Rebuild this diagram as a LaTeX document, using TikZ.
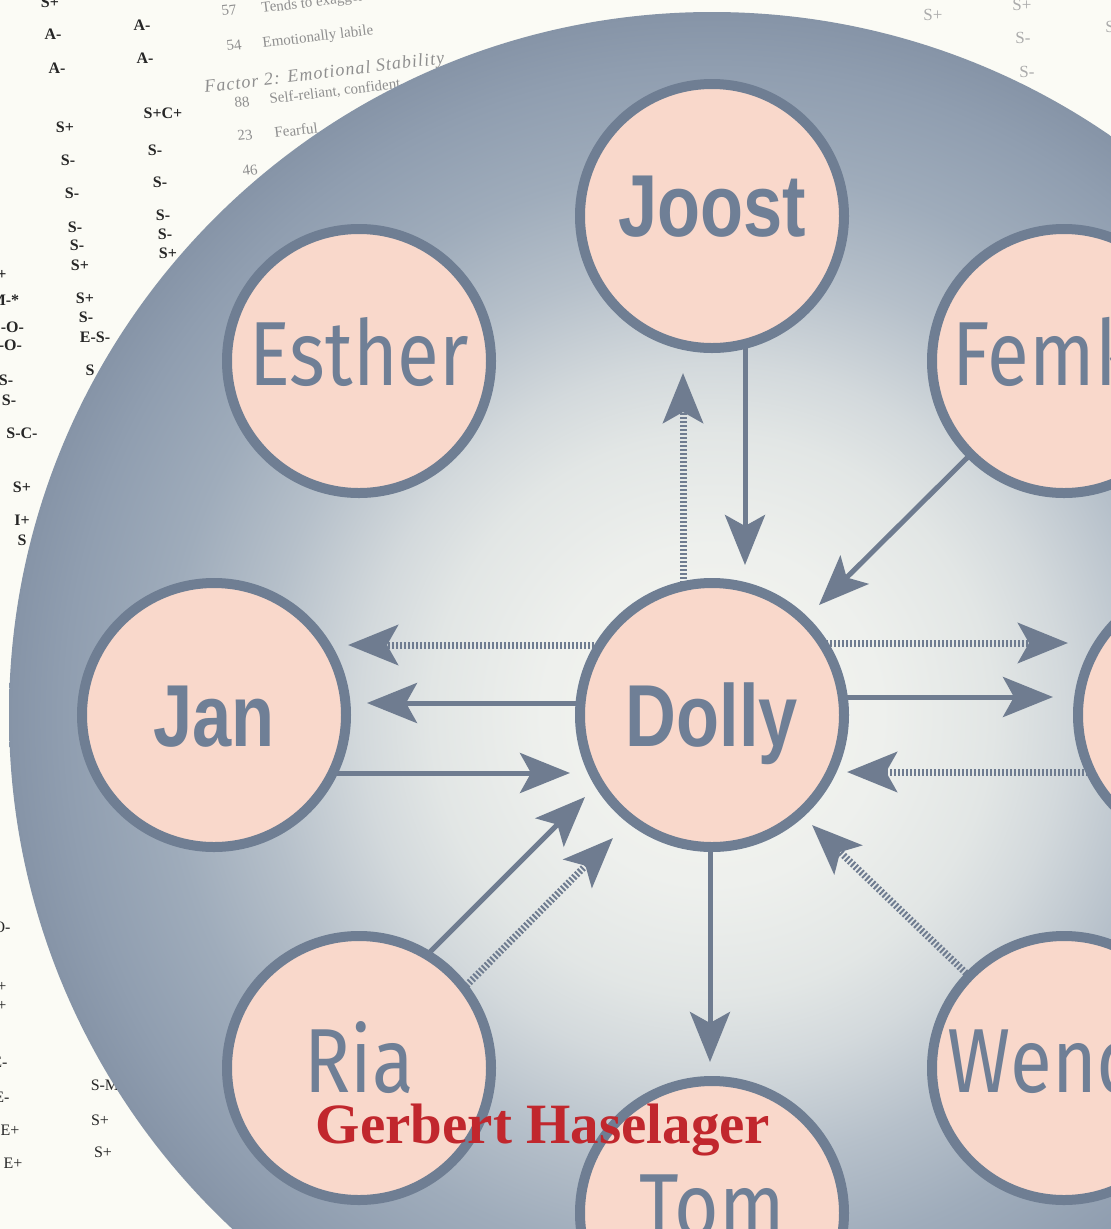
\documentclass[tikz,border=0pt]{standalone}
\usepackage{fontspec}
\usetikzlibrary{arrows.meta,calc}
\newfontfamily\namefont{Fira Sans}[FakeStretch=0.84]
\newfontfamily\bnamefont{Liberation Sans}[FakeStretch=0.8]
\newfontfamily\authorfont{Liberation Serif}
\newfontfamily\bgserif{Liberation Serif}
\newfontfamily\bgspaced{Liberation Serif}[LetterSpace=6]

\definecolor{paper}{HTML}{FBFBF5}
\definecolor{nodefill}{HTML}{F9D8CB}
\definecolor{nodeline}{HTML}{6F7E93}
\definecolor{namec}{HTML}{6F7F96}
\definecolor{arrowc}{HTML}{6F7C90}
\definecolor{authorc}{HTML}{C1272D}
\definecolor{bgdark}{HTML}{262626}
\definecolor{bggrey}{HTML}{8F8F8F}
\definecolor{bglight}{HTML}{ABABAB}
\definecolor{g0}{HTML}{F3F4F0}
\definecolor{g1}{HTML}{EEF0ED}
\definecolor{g2}{HTML}{E2E6E5}
\definecolor{g3}{HTML}{D3D9DC}
\definecolor{g4}{HTML}{B6C0CA}
\definecolor{g5}{HTML}{9FACBB}
\definecolor{g6}{HTML}{909EB0}
\definecolor{g7}{HTML}{8694A7}

\pgfdeclareradialshading{bigshade}{\pgfpoint{0bp}{0bp}}{%
color(0bp)=(g0); color(6bp)=(g1); color(10bp)=(g2); color(12.5bp)=(g3);
color(16bp)=(g4); color(19.5bp)=(g5); color(23bp)=(g6); color(25bp)=(g7);
color(50bp)=(g7)}

\pgfdeclarelayer{back}
\pgfdeclarelayer{arrows}
\pgfsetlayers{back,arrows,main}

\tikzset{
  person/.style={circle, draw=nodeline, line width=10bp, fill=nodefill,
    minimum size=264bp, inner sep=0pt, text=namec,
    font=\namefont\fontsize{91bp}{91bp}\selectfont,
    text height=63bp, text depth=14bp},
  boldname/.style={font=\bnamefont\bfseries\fontsize{88bp}{88bp}\selectfont},
  flatname/.style={text depth=0bp},
  arr/.style={draw=arrowc, line width=5bp,
    -{Stealth[length=50bp,width=40bp,inset=11bp]}},
  dotarr/.style={draw=arrowc, line width=7bp, dash pattern=on 2bp off 2bp,
    -{Stealth[length=50bp,width=40bp,inset=11bp]}},
  boldlab/.style={text=bgdark, inner sep=0pt,
    font=\bgserif\bfseries\fontsize{16bp}{16bp}\selectfont},
  reglab/.style={text=bgdark, inner sep=0pt,
    font=\bgserif\fontsize{16bp}{16bp}\selectfont},
  greytext/.style={text=bggrey, inner sep=0pt, anchor=base west, rotate=7,
    font=\bgserif\fontsize{15bp}{15bp}\selectfont},
  lightlab/.style={text=bglight, inner sep=0pt,
    font=\bgserif\fontsize{17bp}{17bp}\selectfont},
  author/.style={text=authorc, inner sep=0pt, anchor=base,
    font=\authorfont\bfseries\fontsize{57bp}{57bp}\selectfont}
}

\begin{document}
\begin{tikzpicture}[x=1bp,y=-1bp]
\useasboundingbox (0,0) rectangle (1111,1229);

% ---------- people ----------
\node[person, boldname, flatname] (dolly) at (712,715) {Dolly};
\node[person, boldname, text depth=22bp] (joost) at (712,216) {Joost};
\node[person] (esther) at (359,361) {Esther};
\node[person] (femke) at (1064,361) {Femke};
\node[person, boldname, flatname] (jan) at (214,715) {Jan};
\node[person] (rnode) at (1210,715) {};
\node[person] (ria) at (359,1068) {Ria};
\node[person] (tom) at (712,1213) {Tom};
\node[person] (wendy) at (1064,1068) {Wendy};

\node[author] (auth) at (543,1143) {Gerbert Haselager};

% ---------- background ----------
\begin{pgfonlayer}{back}
\fill[paper] (0,0) rectangle (1111,1229);
\foreach \x/\y/\t [count=\i] in {50/2/S+, 53/34/A-, 57/68/A-, 65/127/S+,
   68/160/S-, 72/193/S-, 75/227/S-, 77/245/S-, 80/265/S+, 85/298/S+,
   86/317/S-, 95/337/E-S-, 90/370/S, 142/25/A-, 145/58/A-, 163/113/S+C+,
   155/150/S-, 160/182/S-, 163/215/S-, 165/234/S-, 168/253/S+,
   2/275/+, 5/300/M-*, 8/327/S-O-, 6/345/S-O-, 6/380/S-, 9/400/S-,
   22/433/S-C-, 22/487/S+, 22/520/I+, 22/540/S}
  \node[boldlab] (bl\i) at (\x,\y) {\t};
\foreach \x/\y/\t [count=\i] in {2/927/O-, 2/987/+, 2/1006/+, 0/1062/E-,
   2/1097/E-, 10/1130/E+, 13/1163/E+, 105/1085/S-M, 100/1120/S+, 103/1152/S+}
  \node[reglab] (rl\i) at (\x,\y) {\t};
\foreach \x/\y/\t [count=\i] in {933/15/S+, 1022/5/S+, 1023/38/S-, 1027/72/S-, 1110/27/S}
  \node[lightlab] (ll\i) at (\x,\y) {\t};
\node[greytext] (t57) at (222,16) {57};
\node[greytext] (t57b) at (262,13) {Tends to exaggerate};
\node[greytext] (t54) at (227,51) {54};
\node[greytext] (t54b) at (263,48) {Emotionally labile};
\node[greytext, font=\bgspaced\itshape\fontsize{18bp}{18bp}\selectfont] (tf2) at (205,93) {Factor 2: Emotional Stability};
\node[greytext] (t88) at (235,108) {88};
\node[greytext] (t88b) at (270,104) {Self-reliant, confident};
\node[greytext] (t23) at (238,141) {23};
\node[greytext] (t23b) at (275,138) {Fearful};
\node[greytext] (t46) at (243,176) {46};
% big shaded disc
\shade[shading=bigshade] (dolly.center) circle[radius=703];
\end{pgfonlayer}

% ---------- connectors ----------
\begin{pgfonlayer}{arrows}
\draw[arr] ($(joost)+(33,110)$) -- ($(dolly)+(33,-150)$);
\draw[dotarr] ($(dolly)+(-29,-120)$) -- ($(joost)+(-29,157)$);
\draw[arr] ($(femke)+(-90,90)$) -- ($(dolly)+(107,-110)$);
\draw[dotarr] ($(dolly)+(-110,-70)$) -- ($(jan)+(134,-70)$);
\draw[arr] ($(dolly)+(-110,-12)$) -- ($(jan)+(153,-12)$);
\draw[arr] ($(jan)+(110,58)$) -- ($(dolly)+(-142,58)$);
\draw[dotarr] ($(dolly)+(110,-72)$) -- ($(rnode)+(-142,-72)$);
\draw[arr] ($(dolly)+(110,-18)$) -- ($(rnode)+(-157,-18)$);
\draw[dotarr] ($(rnode)+(-110,57)$) -- ($(dolly)+(135,57)$);
\draw[arr] ($(ria)+(62,-107)$) -- ($(dolly)+(-127,82)$);
\draw[dotarr] ($(ria)+(99,-74)$) -- ($(dolly)+(-99,123)$);
\draw[arr] ($(dolly)+(-2,110)$) -- ($(tom)+(-2,-151)$);
\draw[dotarr] ($(wendy)+(-95,-92)$) -- ($(dolly)+(100,110)$);
\end{pgfonlayer}
\end{tikzpicture}
\end{document}
